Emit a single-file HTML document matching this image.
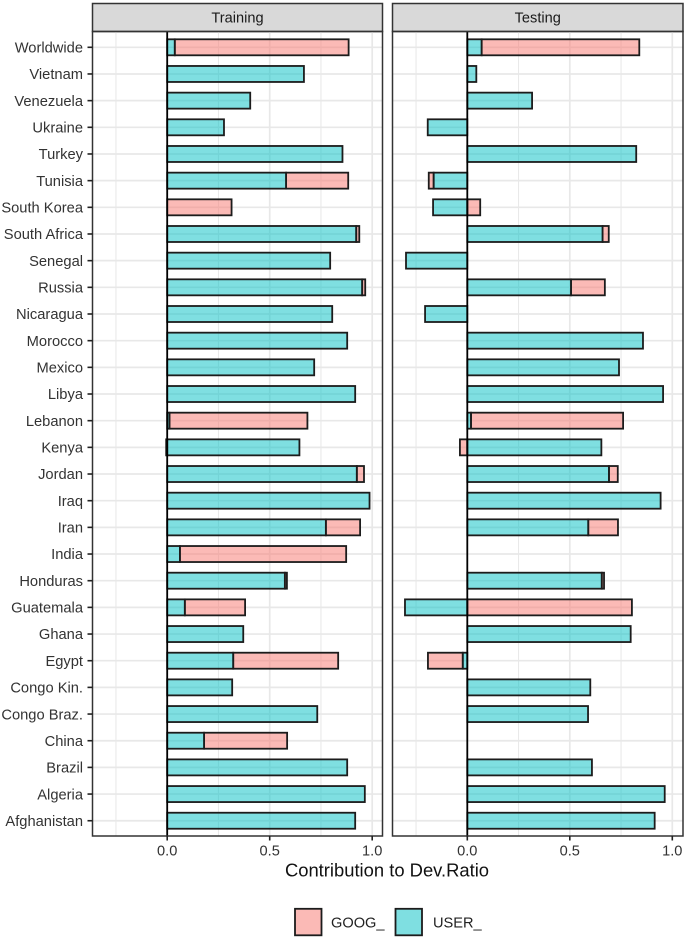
<!DOCTYPE html>
<html>
<head>
<meta charset="utf-8">
<title>Contribution to Dev.Ratio</title>
<style>
html,body{margin:0;padding:0;background:#fff;width:685px;height:938px;overflow:hidden}
svg{display:block;font-family:"Liberation Sans",Arial,sans-serif;filter:blur(0.3px)}
</style>
</head>
<body>
<svg id="chart" xmlns="http://www.w3.org/2000/svg" width="685" height="938" viewBox="0 0 685 938"></svg>
<script>
var categories = ["Worldwide","Vietnam","Venezuela","Ukraine","Turkey","Tunisia","South Korea","South Africa","Senegal","Russia","Nicaragua","Morocco","Mexico","Libya","Lebanon","Kenya","Jordan","Iraq","Iran","India","Honduras","Guatemala","Ghana","Egypt","Congo Kin.","Congo Braz.","China","Brazil","Algeria","Afghanistan"];
var trainUser = [0.037,0.667,0.405,0.277,0.855,0.58,0,0.922,0.795,0.951,0.805,0.878,0.717,0.917,0.011,0.645,0.925,0.987,0.774,0.062,0.574,0.086,0.371,0.322,0.317,0.732,0.18,0.878,0.964,0.917];
var trainGoog = [0.848,0,0,0,0,0.303,0.314,0.015,0,0.015,0,0,0,0,0.673,-0.005,0.035,0,0.167,0.811,0.01,0.294,0,0.512,0,0,0.405,0,0,0];
var testUser = [0.07,0.044,0.316,-0.193,0.824,-0.164,-0.167,0.66,-0.299,0.506,-0.206,0.857,0.74,0.955,0.018,0.654,0.691,0.943,0.59,0,0.656,-0.304,0.797,-0.022,0.6,0.589,0,0.608,0.963,0.914];
var testGoog = [0.769,0,0,0,0,-0.024,0.063,0.03,0,0.165,0,0,0,0,0.742,-0.036,0.043,0,0.145,0,0.011,0.803,0,-0.17,0,0,0,0,0,0];
var xTicks = [0,0.5,1];
var xTickLabels = ["0.0","0.5","1.0"];
var xMinorTicks = [-0.25,0.25,0.75];
var panelTitles = ["Training","Testing"];
var legendLabels = ["GOOG_","USER_"];

var svg = document.getElementById('chart');
var NS = 'http://www.w3.org/2000/svg';
var GOOG_FILL = '#F8766D', USER_FILL = '#00BFC4', EDGE = '#1c1c1c';
var PANEL_TOP = 31.5, PANEL_BOTTOM = 836;
var panels = [
  {left:92.5,right:382.5,zero:167.2,unit:205,user:trainUser,goog:trainGoog},
  {left:392.5,right:683,zero:467.3,unit:205,user:testUser,goog:testGoog}
];
function xScale(p,v){return p.zero + v*p.unit;}
function yScale(i){return 47.3 + i*26.67;}
function make(tag,attrs,parent){
  var el = document.createElementNS(NS,tag);
  for(var k in attrs){el.setAttribute(k,attrs[k]);}
  (parent||svg).appendChild(el);
  return el;
}
function drawSegment(p,i,from,to,fill,g,name){
  if(to===from){return;}
  var x0 = xScale(p,Math.min(from,to)), x1 = xScale(p,Math.max(from,to));
  var r = make('rect',{x:x0,y:yScale(i)-8,width:x1-x0,height:16,fill:fill,'fill-opacity':0.5,stroke:EDGE,'stroke-width':1.8},g);
  
  
}
panels.forEach(function(p,pi){
  var g = make('g',{});
  
  

  var strip = make('rect',{x:p.left,y:3.5,width:p.right-p.left,height:PANEL_TOP-3.5,fill:'#d9d9d9',stroke:'#333','stroke-width':1.5},g);
  
  
  var title = make('text',{x:(p.left+p.right)/2,y:22.5,'text-anchor':'middle','font-size':14.6,fill:'#1a1a1a'},g);
  title.textContent = panelTitles[pi];
  
  

  xMinorTicks.forEach(function(t){
    var l = make('line',{x1:xScale(p,t),x2:xScale(p,t),y1:PANEL_TOP,y2:PANEL_BOTTOM,stroke:'#e8e8e8','stroke-width':1},g);
    
    
  });
  xTicks.forEach(function(t){
    var l = make('line',{x1:xScale(p,t),x2:xScale(p,t),y1:PANEL_TOP,y2:PANEL_BOTTOM,stroke:'#e8e8e8','stroke-width':1.7},g);
    
    
  });
  categories.forEach(function(c,i){
    var l = make('line',{x1:p.left,x2:p.right,y1:yScale(i),y2:yScale(i),stroke:'#e8e8e8','stroke-width':1.7},g);
    
    
  });

  categories.forEach(function(c,i){
    var u = p.user[i], o = p.goog[i];
    var start = ((u>0&&o>0)||(u<0&&o<0)) ? u : 0;
    drawSegment(p,i,start,start+o,GOOG_FILL,g,'goog-bar');
    drawSegment(p,i,0,u,USER_FILL,g,'user-bar');
  });

  var zero = make('line',{x1:xScale(p,0),x2:xScale(p,0),y1:PANEL_TOP,y2:PANEL_BOTTOM,stroke:'#000','stroke-width':1.8},g);
  
  

  var border = make('rect',{x:p.left,y:PANEL_TOP,width:p.right-p.left,height:PANEL_BOTTOM-PANEL_TOP,fill:'none',stroke:'#333','stroke-width':1.5},g);
  
  

  xTicks.forEach(function(t,ti){
    var tick = make('line',{x1:xScale(p,t),x2:xScale(p,t),y1:PANEL_BOTTOM,y2:PANEL_BOTTOM+4.5,stroke:'#222','stroke-width':1.6},g);
    
    
    var lab = make('text',{x:xScale(p,t),y:855.3,'text-anchor':'middle','font-size':14.6,fill:'#333'},g);
    lab.textContent = xTickLabels[ti];
    
    
  });
});

categories.forEach(function(c,i){
  var tick = make('line',{x1:87.5,x2:92.5,y1:yScale(i),y2:yScale(i),stroke:'#222','stroke-width':1.6});
  
  
  var lab = make('text',{x:83,y:yScale(i)+5.2,'text-anchor':'end','font-size':14.7,fill:'#333'});
  lab.textContent = c;
  
  
});

var xTitle = make('text',{x:387,y:876.3,'text-anchor':'middle','font-size':18.4,fill:'#111'});
xTitle.textContent = 'Contribution to Dev.Ratio';



[{x:295,fill:GOOG_FILL,tx:331},{x:395.5,fill:USER_FILL,tx:433}].forEach(function(k,i){
  var key = make('rect',{x:k.x,y:908.8,width:26.5,height:26.5,fill:k.fill,'fill-opacity':0.5,stroke:EDGE,'stroke-width':1.8});
  
  
  var lab = make('text',{x:k.tx,y:927.3,'font-size':14.6,fill:'#222'});
  lab.textContent = legendLabels[i];
  
  
});
</script>
</body>
</html>
